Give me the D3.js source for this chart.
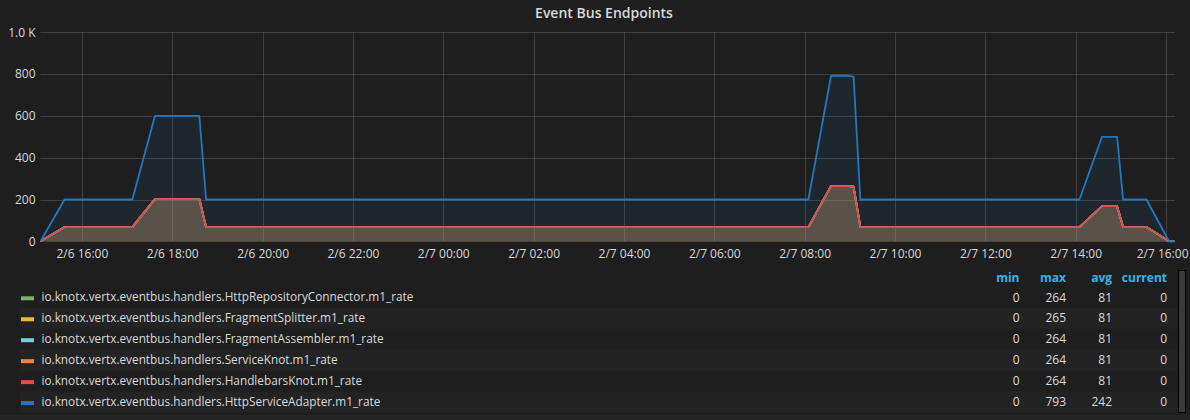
<!DOCTYPE html>
<html>
<head>
<meta charset="utf-8">
<script src="https://cdn.jsdelivr.net/npm/d3@7"></script>
<style>
  html, body { margin: 0; padding: 0; background: #1f1e1e; }
  svg { display: block; font-family: "Open Sans", sans-serif; }
</style>
</head>
<body>
<svg id="chart" width="1190" height="420"></svg>
<script>
// ---------------- data ----------------
const chartTitle = "Event Bus Endpoints";
const times = [
  "2017-02-06 15:05", "2017-02-06 15:37", "2017-02-06 17:07", "2017-02-06 17:37",
  "2017-02-06 18:36", "2017-02-06 18:45", "2017-02-07 08:05", "2017-02-07 08:35",
  "2017-02-07 08:58", "2017-02-07 09:05", "2017-02-07 09:14", "2017-02-07 14:05",
  "2017-02-07 14:35", "2017-02-07 14:55", "2017-02-07 15:03", "2017-02-07 15:34",
  "2017-02-07 16:04", "2017-02-07 16:11"
];
const httpRepositoryConnector = [0, 68, 68, 202, 202, 68, 68, 264, 264, 262, 68, 68, 168, 168, 68, 68, 0, 0];
const fragmentSplitter        = [0, 68, 68, 202, 202, 68, 68, 265, 265, 262, 68, 68, 168, 168, 68, 68, 0, 0];
const fragmentAssembler       = [0, 68, 68, 202, 202, 68, 68, 264, 264, 262, 68, 68, 168, 168, 68, 68, 0, 0];
const serviceKnot             = [0, 68, 68, 202, 202, 68, 68, 264, 264, 262, 68, 68, 168, 168, 68, 68, 0, 0];
const handlebarsKnot          = [0, 68, 68, 202, 202, 68, 68, 264, 264, 262, 68, 68, 168, 168, 68, 68, 0, 0];
const httpServiceAdapter      = [0, 200, 200, 600, 600, 200, 200, 792, 792, 788, 200, 200, 500, 500, 200, 200, 0, 0];

const seriesNames = [
  "io.knotx.vertx.eventbus.handlers.HttpRepositoryConnector.m1_rate",
  "io.knotx.vertx.eventbus.handlers.FragmentSplitter.m1_rate",
  "io.knotx.vertx.eventbus.handlers.FragmentAssembler.m1_rate",
  "io.knotx.vertx.eventbus.handlers.ServiceKnot.m1_rate",
  "io.knotx.vertx.eventbus.handlers.HandlebarsKnot.m1_rate",
  "io.knotx.vertx.eventbus.handlers.HttpServiceAdapter.m1_rate"
];
const seriesColors = ["#7eb26d", "#eab839", "#6ed0e0", "#ef843c", "#e24d42", "#1f78c1"];
const legendColumns = ["min", "max", "avg", "current"];
const legendMin = [0, 0, 0, 0, 0, 0];
const legendMax = [264, 265, 264, 264, 264, 793];
const legendAvg = [81, 81, 81, 81, 81, 242];
const legendCurrent = [0, 0, 0, 0, 0, 0];
const yTicks = [0, 200, 400, 600, 800, 1000];
const xTickStart = "2017-02-06 16:00";
const xTickEnd = "2017-02-07 16:00";

// ---------------- build ----------------
const parse = d3.timeParse("%Y-%m-%d %H:%M");
const tDates = times.map(parse);
const valueArrays = [httpRepositoryConnector, fragmentSplitter, fragmentAssembler, serviceKnot, handlebarsKnot, httpServiceAdapter];
const series = seriesNames.map((name, i) => ({
  name, color: seriesColors[i],
  points: tDates.map((t, j) => ({ t, v: valueArrays[i][j] }))
}));

const svg = d3.select("#chart");
const W = 1190;
const plot = { left: 40.5, right: 1175, top: 32.3, bottom: 241.3 };

const x = d3.scaleTime().domain([tDates[0], tDates[tDates.length - 1]]).range([plot.left, 1174.3]);
const y = d3.scaleLinear().domain([0, 1000]).range([plot.bottom, plot.top]);

// title
svg.append("text").attr("x", 604).attr("y", 18).attr("text-anchor", "middle")
  .attr("fill", "#d8d9da").attr("font-size", 14).attr("font-weight", 600).text(chartTitle);

// grid
const xTicks = d3.timeHour.every(2).range(parse(xTickStart), d3.timeMinute.offset(parse(xTickEnd), 1));
const grid = svg.append("g");
grid.selectAll("line.h").data(yTicks).join("line")
  .attr("x1", plot.left).attr("x2", plot.right)
  .attr("y1", d => Math.round(y(d)) + 0.5).attr("y2", d => Math.round(y(d)) + 0.5)
  .attr("stroke", "rgba(200,200,200,0.2)");
grid.selectAll("line.v").data(xTicks).join("line")
  .attr("x1", d => Math.round(x(d)) + 0.5).attr("x2", d => Math.round(x(d)) + 0.5)
  .attr("y1", plot.top).attr("y2", plot.bottom)
  .attr("stroke", "rgba(200,200,200,0.2)");

// axes (labels only)
const yAxis = d3.axisLeft(y).tickValues(yTicks).tickSize(0).tickPadding(5)
  .tickFormat(d => d >= 1000 ? (d / 1000).toFixed(1) + " K" : d);
const gy = svg.append("g").attr("transform", `translate(${plot.left},0)`).call(yAxis);
gy.select(".domain").remove();
gy.selectAll("text").attr("fill", "#d8d9da").attr("font-size", 12).attr("font-family", "Open Sans");

const xAxis = d3.axisBottom(x).tickValues(xTicks).tickSize(0).tickPadding(8)
  .tickFormat(d3.timeFormat("%-m/%-d %H:%M"));
const gx = svg.append("g").attr("transform", `translate(0,${plot.bottom})`).call(xAxis);
gx.select(".domain").remove();
gx.selectAll("text").attr("fill", "#d8d9da").attr("font-size", 12).attr("font-family", "Open Sans");
// keep the last label inside the panel
gx.selectAll(".tick").filter((d, i, n) => i === n.length - 1).select("text")
  .attr("text-anchor", "end").attr("x", function (d) { return 1188 - x(d); });

// series
svg.append("clipPath").attr("id", "clip").append("rect")
  .attr("x", plot.left - 1).attr("y", plot.top - 2).attr("width", plot.right - plot.left + 2).attr("height", plot.bottom - plot.top + 3);
const area = d3.area().x(d => x(d.t)).y0(y(0)).y1(d => y(d.v));
const line = d3.line().x(d => x(d.t)).y(d => y(d.v));
const sg = svg.append("g").attr("clip-path", "url(#clip)");
series.forEach(s => {
  sg.append("path").attr("d", area(s.points)).attr("fill", s.color).attr("fill-opacity", 0.1);
  sg.append("path").attr("d", line(s.points)).attr("fill", "none").attr("stroke", s.color)
    .attr("stroke-width", 1.8).attr("stroke-linejoin", "round");
});

// legend
const rowY0 = 297.3, rowH = 20.95;
const colRight = [1019.5, 1066, 1112, 1167];
const lg = svg.append("g");
series.forEach((s, i) => {
  const cy = rowY0 + i * rowH;
  if (i % 2 === 1) {
    lg.append("rect").attr("x", 20).attr("y", cy - rowH / 2).attr("width", 1157).attr("height", rowH)
      .attr("fill", "#242323");
  }
  lg.append("rect").attr("x", 21).attr("y", cy - 1).attr("width", 13).attr("height", 4).attr("fill", s.color);
  lg.append("text").attr("x", 41.5).attr("y", cy).attr("dy", "0.35em").attr("fill", "#d8d9da")
    .attr("font-size", 11.8).text(s.name);
  const vals = [legendMin[i], legendMax[i], legendAvg[i], legendCurrent[i]];
  vals.forEach((v, k) => {
    lg.append("text").attr("x", colRight[k]).attr("y", cy).attr("dy", "0.35em").attr("text-anchor", "end")
      .attr("fill", "#d8d9da").attr("font-size", 12).text(v);
  });
});
legendColumns.forEach((c, k) => {
  lg.append("text").attr("x", colRight[k]).attr("y", 277.3).attr("dy", "0.35em").attr("text-anchor", "end")
    .attr("fill", "#33b5e5").attr("font-size", 12).attr("font-weight", 700).text(c);
});
// scrollbar
lg.append("rect").attr("x", 1178.5).attr("y", 270.5).attr("width", 7).attr("height", 142)
  .attr("fill", "#3a3a3a").attr("stroke", "#000").attr("stroke-width", 1);
// bottom strip
lg.append("rect").attr("x", 0).attr("y", 415).attr("width", W).attr("height", 5).attr("fill", "#262525");
</script>
</body>
</html>
